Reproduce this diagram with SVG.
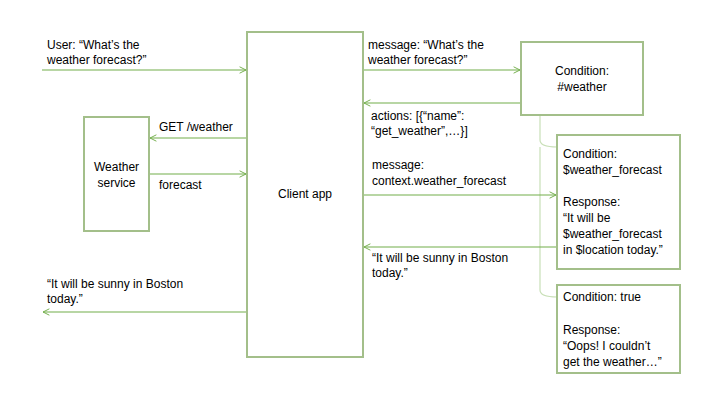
<svg xmlns="http://www.w3.org/2000/svg" width="720" height="405" viewBox="0 0 720 405">
<defs>
<style>
text{font-family:"Liberation Sans",Arial,sans-serif;font-size:12px;fill:#000}
.box{fill:#fff;stroke:#a3bf8a;stroke-width:2}
.arr{stroke:#72ad4a;stroke-width:1.2;fill:none;marker-end:url(#ah)}
.tree{stroke:#c9e0b8;stroke-width:1.2;fill:none}
.c{text-anchor:middle}
</style>
<marker id="ah" viewBox="0 0 10 10" refX="9" refY="5" markerWidth="8" markerHeight="8" markerUnits="userSpaceOnUse" orient="auto">
<path d="M1,1 L9,5 L1,9" fill="none" stroke="#72ad4a" stroke-width="1.2"/>
</marker>
</defs>
<rect width="720" height="405" fill="#fff"/>
<g id="connectors">
<path class="tree" d="M540,115 V140 Q540,147 557,147"/>
<path class="tree" d="M540,147 V290 Q540,297 557,297"/>
<line class="arr" x1="42" y1="70" x2="246" y2="70"/>
<line class="arr" x1="363" y1="70" x2="520" y2="70"/>
<line class="arr" x1="520" y1="103" x2="364" y2="103"/>
<line class="arr" x1="246" y1="138" x2="150" y2="138"/>
<line class="arr" x1="150" y1="174" x2="246" y2="174"/>
<line class="arr" x1="363" y1="195" x2="556" y2="195"/>
<line class="arr" x1="556" y1="247" x2="364" y2="247"/>
<line class="arr" x1="246" y1="312" x2="43" y2="312"/>
<text x="47" y="49">User: “What’s the</text>
<text x="47" y="64">weather forecast?”</text>
<text x="368" y="49">message: “What’s the</text>
<text x="368" y="64">weather forecast?”</text>
<text x="371" y="120">actions: [{“name”:</text>
<text x="371" y="135">“get_weather”,…}]</text>
<text x="159" y="131">GET /weather</text>
<text x="159" y="189">forecast</text>
<text x="372" y="169">message:</text>
<text x="372" y="185">context.weather_forecast</text>
<text x="372" y="262">“It will be sunny in Boston</text>
<text x="372" y="277">today.”</text>
<text x="47" y="288">“It will be sunny in Boston</text>
<text x="47" y="303">today.”</text>
</g>
<g id="client-app">
<rect class="box" x="247" y="32" width="116" height="325"/>
<text class="c" x="305" y="198">Client app</text>
</g>
<g id="weather-service">
<rect class="box" x="84" y="117" width="65" height="114"/>
<text class="c" x="116.5" y="171">Weather</text>
<text class="c" x="116.5" y="187">service</text>
</g>
<g id="condition-weather">
<rect class="box" x="521" y="42" width="122" height="73"/>
<text class="c" x="582" y="75">Condition:</text>
<text class="c" x="582" y="91">#weather</text>
</g>
<g id="condition-forecast">
<rect class="box" x="557" y="135" width="123" height="134"/>
<text x="563" y="158">Condition:</text>
<text x="563" y="174">$weather_forecast</text>
<text x="563" y="206">Response:</text>
<text x="563" y="222">“It will be</text>
<text x="563" y="238">$weather_forecast</text>
<text x="563" y="254">in $location today.”</text>
</g>
<g id="condition-true">
<rect class="box" x="557" y="285" width="123" height="88"/>
<text x="563" y="301">Condition: true</text>
<text x="563" y="334">Response:</text>
<text x="563" y="350">“Oops! I couldn’t</text>
<text x="563" y="366">get the weather…”</text>
</g>
</svg>
